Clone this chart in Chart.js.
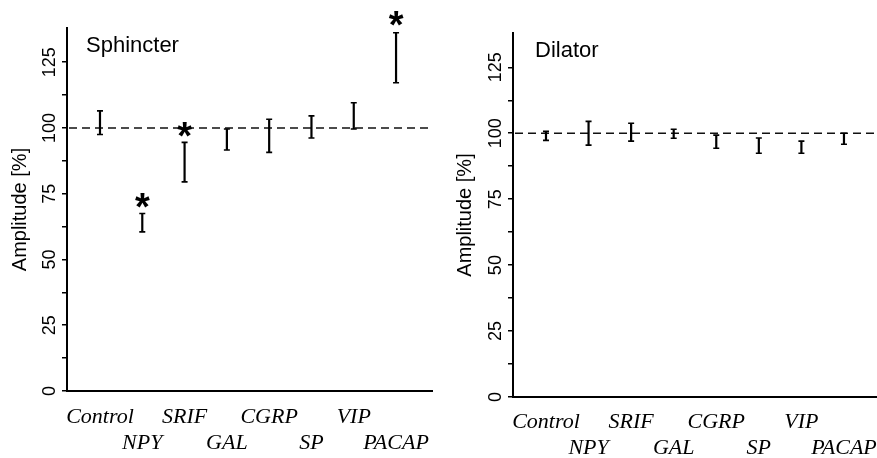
<!DOCTYPE html>
<html>
<head>
<meta charset="utf-8">
<script src="https://cdn.jsdelivr.net/npm/chart.js@4.4.1/dist/chart.umd.min.js"></script>
<style>
    html, body { margin: 0; padding: 0; background: #fff; }
    #wrap { position: relative; width: 877px; height: 458px; }
    .panel { position: absolute; top: 0; height: 458px; }
</style>
</head>
<body>
<div id="wrap">
    <div class="panel" style="left:0;width:440px"><canvas id="sphincterChart"></canvas></div>
    <div class="panel" style="left:440px;width:437px"><canvas id="dilatorChart"></canvas></div>
</div>
<script>
// Peptides on the x axis, alternating between the two label rows
const categories = ['Control', 'NPY', 'SRIF', 'GAL', 'CGRP', 'SP', 'VIP', 'PACAP'];
const labelRow = [0, 1, 0, 1, 0, 1, 0, 1];

// Sphincter: mean amplitude [%] and error (half bar length)
const sphincterMean = [102, 64, 87, 95.6, 97, 100.4, 104.6, 126.7];
const sphincterErr = [4.5, 3.5, 7.5, 4, 6.3, 4.2, 5, 9.5];
// where the significance asterisks sit (value on y axis), null = none
const sphincterStars = [null, 72.5, 99.6, null, null, null, null, 141.5];

// Dilator
const dilatorMean = [99, 100, 100.4, 99.8, 96.8, 95.3, 94.7, 97.9];
const dilatorErr = [1.7, 4.5, 3.4, 1.7, 2.5, 2.9, 2.3, 2.1];
const dilatorStars = [null, null, null, null, null, null, null, null];

const yTicks = [0, 25, 50, 75, 100, 125];
const yMinorStep = 12.5;
const refValue = 100;

/**
 * Draws the reference line, error bars, asterisks, rotated y labels and panel title
 */
const panelPlugin = {
    id: 'panel',
    afterDraw(chart, args, opts) {
        const ctx = chart.ctx;
        const xs = chart.scales.x;
        const ys = chart.scales.y;
        const area = chart.chartArea;
        ctx.save();

        // dashed line at 100 %
        const yRef = ys.getPixelForValue(refValue);
        ctx.strokeStyle = '#111';
        ctx.lineWidth = 1.6;
        ctx.setLineDash([8, 5]);
        ctx.beginPath();
        ctx.moveTo(area.left + 2, yRef);
        ctx.lineTo(area.right, yRef);
        ctx.stroke();
        ctx.setLineDash([]);

        // error bars
        opts.means.forEach((m, i) => {
            const x = xs.getPixelForValue(i);
            const yHi = ys.getPixelForValue(m + opts.errors[i]);
            const yLo = ys.getPixelForValue(m - opts.errors[i]);
            ctx.strokeStyle = '#000';
            ctx.lineWidth = 2.2;
            ctx.beginPath();
            ctx.moveTo(x, yHi);
            ctx.lineTo(x, yLo);
            ctx.stroke();
            ctx.lineWidth = 1.6;
            ctx.beginPath();
            ctx.moveTo(x - 3, yHi);
            ctx.lineTo(x + 3, yHi);
            ctx.moveTo(x - 3, yLo);
            ctx.lineTo(x + 3, yLo);
            ctx.stroke();
        });

        // asterisks
        ctx.fillStyle = '#000';
        ctx.font = 'bold 38px "Liberation Sans", Arial, sans-serif';
        ctx.textAlign = 'center';
        ctx.textBaseline = 'alphabetic';
        const mt = ctx.measureText('*');
        opts.stars.forEach((s, i) => {
            if (s === null) {
                return;
            }
            const x = xs.getPixelForValue(i);
            const y = ys.getPixelForValue(s);
            const base = y + (mt.actualBoundingBoxAscent - mt.actualBoundingBoxDescent) / 2;
            ctx.fillText('*', x, base);
        });

        // rotated y tick labels
        ctx.font = '18px "Liberation Sans", Arial, sans-serif';
        ctx.textBaseline = 'middle';
        yTicks.forEach(v => {
            const y = ys.getPixelForValue(v);
            ctx.save();
            ctx.translate(area.left - 17, y);
            ctx.rotate(-Math.PI / 2);
            ctx.fillText(String(v), 0, 0);
            ctx.restore();
        });

        // panel title
        ctx.font = '22px "Liberation Sans", Arial, sans-serif';
        ctx.textAlign = 'left';
        ctx.textBaseline = 'alphabetic';
        ctx.fillText(opts.title, opts.titleX, opts.titleY);

        ctx.restore();
    }
};

function buildPanel(canvasId, cfg) {
    const ctx = document.getElementById(canvasId);
    const points = cfg.means.map((m, i) => ({ x: i, y: m }));

    return new Chart(ctx, {
        type: 'scatter',
        data: {
            datasets: [{
                data: points,
                pointRadius: 0,
                borderColor: '#000',
                backgroundColor: '#000'
            }]
        },
        options: {
            responsive: true,
            maintainAspectRatio: false,
            animation: false,
            layout: {
                padding: { top: cfg.top, right: cfg.right, left: 0, bottom: 0 }
            },
            plugins: {
                legend: { display: false },
                tooltip: { enabled: false },
                panel: {
                    means: cfg.means,
                    errors: cfg.errors,
                    stars: cfg.stars,
                    title: cfg.title,
                    titleX: cfg.titleX,
                    titleY: cfg.titleY
                }
            },
            scales: {
                x: {
                    type: 'linear',
                    min: cfg.xMin,
                    max: cfg.xMax,
                    afterBuildTicks: scale => {
                        scale.ticks = categories.map((c, i) => ({ value: i }));
                    },
                    afterFit: scale => {
                        scale.height = cfg.xHeight;
                        scale.paddingLeft = 0;
                        scale.paddingRight = 0;
                    },
                    ticks: {
                        autoSkip: false,
                        maxRotation: 0,
                        minRotation: 0,
                        padding: cfg.xPad,
                        color: '#000',
                        font: { family: '"Liberation Serif", "Times New Roman", serif', style: 'italic', size: 22, lineHeight: 1.15 },
                        callback: value => {
                            const i = Math.round(value);
                            return labelRow[i] ? ['', categories[i]] : [categories[i], ''];
                        }
                    },
                    grid: { display: false, drawTicks: false },
                    border: { display: true, color: '#000', width: 2 }
                },
                y: {
                    type: 'linear',
                    min: 0,
                    max: 138,
                    afterBuildTicks: scale => {
                        const ticks = [];
                        for (let v = 0; v <= 125; v += yMinorStep) {
                            ticks.push({ value: v });
                        }
                        scale.ticks = ticks;
                    },
                    afterFit: scale => {
                        scale.width = cfg.yWidth;
                    },
                    ticks: { display: false },
                    grid: {
                        drawOnChartArea: false,
                        drawTicks: true,
                        tickLength: 5,
                        color: '#000',
                        lineWidth: 1.5
                    },
                    border: { display: true, color: '#000', width: 2 },
                    title: {
                        display: true,
                        text: 'Amplitude [%]',
                        color: '#000',
                        font: { family: '"Liberation Sans", Arial, sans-serif', size: 20 },
                        padding: { top: cfg.yTitlePad, bottom: 0 }
                    }
                }
            }
        },
        plugins: [panelPlugin]
    });
}

document.addEventListener('DOMContentLoaded', function() {
    buildPanel('sphincterChart', {
        means: sphincterMean,
        errors: sphincterErr,
        stars: sphincterStars,
        title: 'Sphincter',
        titleX: 86,
        titleY: 52,
        top: 28,
        right: 8,
        xMin: -0.78,
        xMax: 7.85,
        xHeight: 67,
        xPad: 14,
        yWidth: 67,
        yTitlePad: 8
    });

    buildPanel('dilatorChart', {
        means: dilatorMean,
        errors: dilatorErr,
        stars: dilatorStars,
        title: 'Dilator',
        titleX: 95,
        titleY: 57,
        top: 33,
        right: 0,
        xMin: -0.775,
        xMax: 7.776,
        xHeight: 61,
        xPad: 13,
        yWidth: 73,
        yTitlePad: 13
    });
});
</script>
</body>
</html>
